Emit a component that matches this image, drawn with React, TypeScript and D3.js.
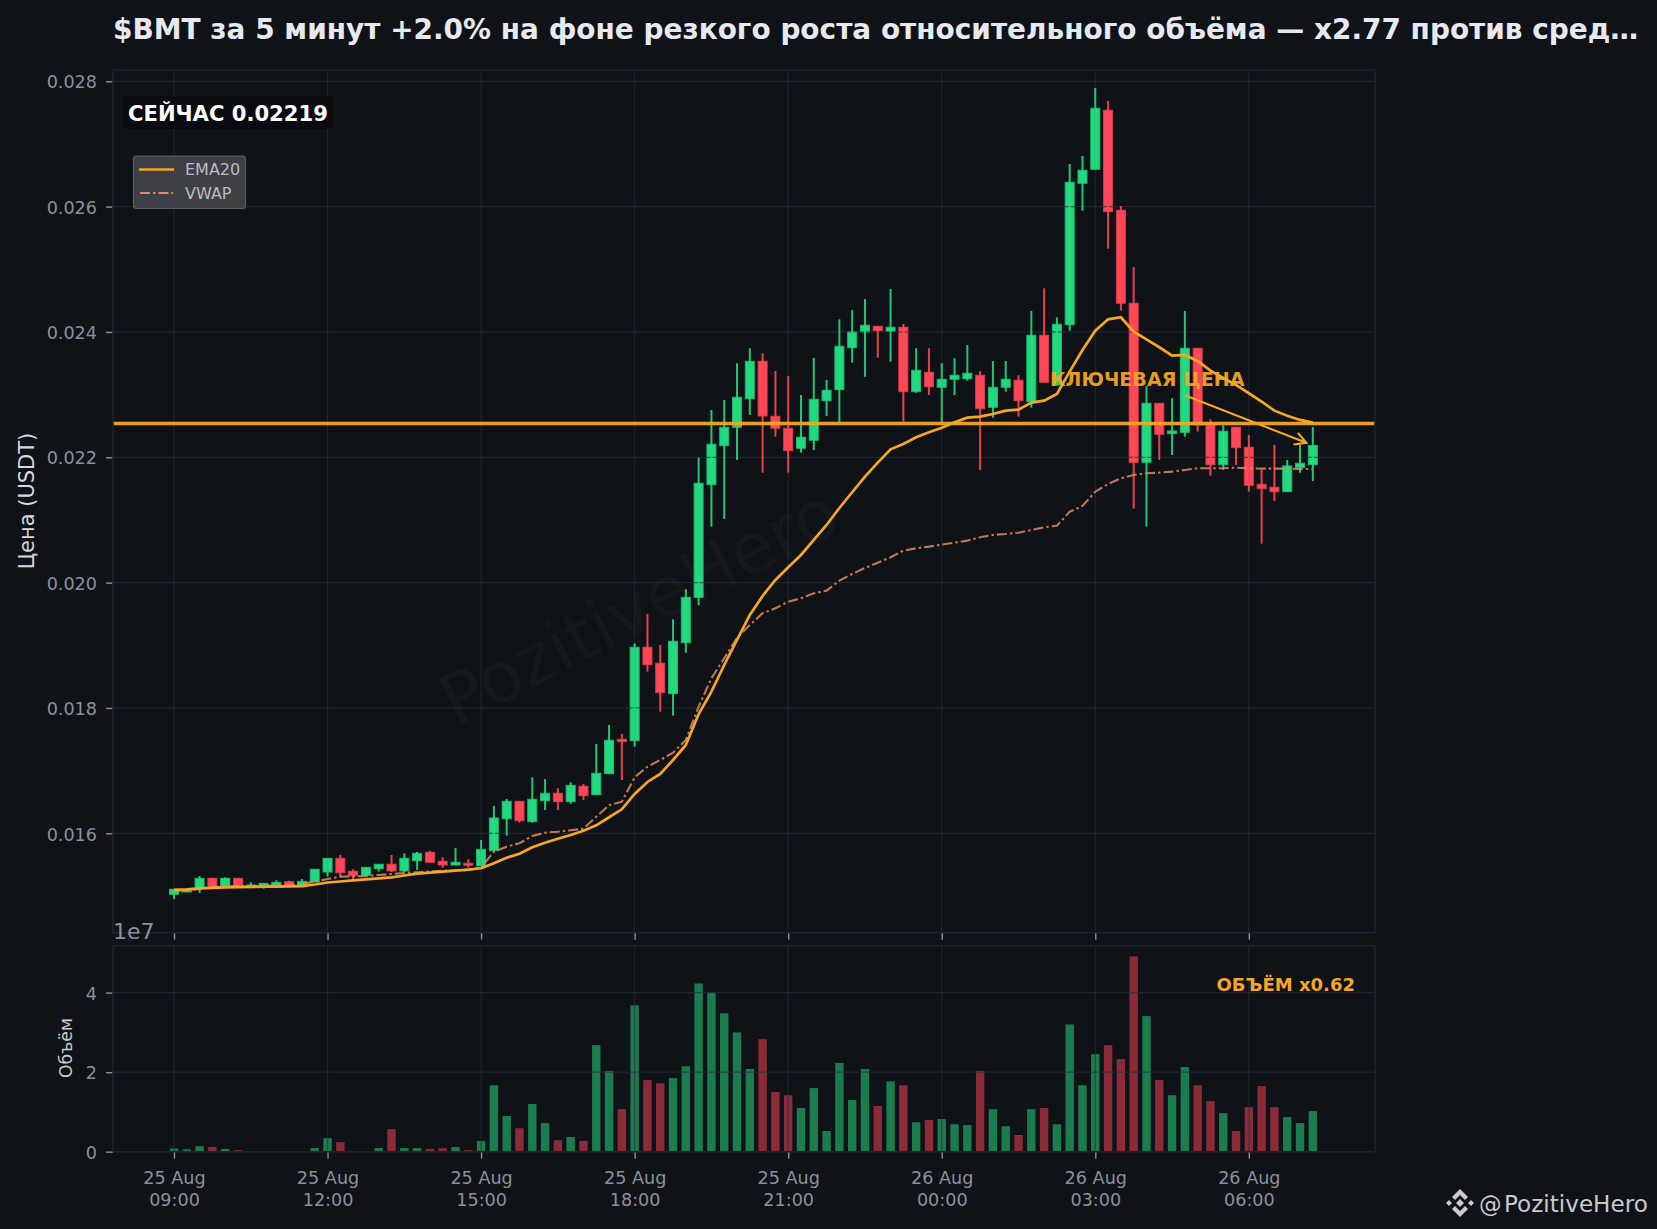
import React, { useEffect, useRef } from 'react';
import * as d3 from 'd3';

const WIDTH = 1657;
const HEIGHT = 1229;

const opens = [
  0.015027, 0.015064, 0.015132, 0.015282, 0.015159, 0.015282, 0.015159, 0.015159, 0.015171, 0.015228,
  0.015148, 0.015223, 0.015383, 0.015601, 0.015394, 0.015330, 0.015435, 0.015506, 0.015399, 0.015563,
  0.015697, 0.015554, 0.015494, 0.015522, 0.015479, 0.015723, 0.016233, 0.016511, 0.016186, 0.016521,
  0.016639, 0.016505, 0.016750, 0.016616, 0.016951, 0.017500, 0.017478, 0.018968, 0.018713, 0.018228,
  0.019042, 0.019766, 0.021563, 0.022186, 0.022479, 0.022935, 0.023532, 0.022654, 0.022463, 0.022144,
  0.022272, 0.022904, 0.023079, 0.023749, 0.024000, 0.024091, 0.024011, 0.024075, 0.023047, 0.023357,
  0.023117, 0.023245, 0.023255, 0.023309, 0.022798, 0.023117, 0.023229, 0.022887, 0.023947, 0.023154,
  0.024116, 0.026372, 0.026596, 0.027537, 0.025942, 0.024458, 0.021921, 0.022862, 0.022377, 0.022399,
  0.023740, 0.022516, 0.021882, 0.022479, 0.022160, 0.021569, 0.021522, 0.021451, 0.021835, 0.021882,
];
const highs = [
  0.015112, 0.015096, 0.015319, 0.015287, 0.015298, 0.015282, 0.015218, 0.015202, 0.015250, 0.015244,
  0.015271, 0.015426, 0.015601, 0.015654, 0.015426, 0.015458, 0.015506, 0.015654, 0.015681, 0.015702,
  0.015718, 0.015617, 0.015766, 0.015585, 0.015893, 0.016436, 0.016548, 0.016511, 0.016894, 0.016867,
  0.016719, 0.016814, 0.016787, 0.017425, 0.017729, 0.017585, 0.019032, 0.019500, 0.019005, 0.019415,
  0.019894, 0.021996, 0.022755, 0.022915, 0.023500, 0.023740, 0.023660, 0.023377, 0.023298, 0.022994,
  0.023585, 0.023234, 0.024202, 0.024351, 0.024526, 0.024091, 0.024686, 0.024127, 0.023740, 0.023740,
  0.023500, 0.023580, 0.023792, 0.023373, 0.023537, 0.023537, 0.023309, 0.024335, 0.024697, 0.024234,
  0.026680, 0.026808, 0.027893, 0.027685, 0.026010, 0.025037, 0.023138, 0.022862, 0.022942, 0.024335,
  0.023740, 0.022607, 0.022511, 0.022479, 0.022356, 0.021798, 0.022197, 0.021957, 0.022197, 0.022484,
];
const lows = [
  0.014952, 0.015064, 0.015052, 0.015132, 0.015148, 0.015148, 0.015123, 0.015116, 0.015171, 0.015159,
  0.015148, 0.015223, 0.015308, 0.015298, 0.015271, 0.015308, 0.015388, 0.015383, 0.015383, 0.015415,
  0.015538, 0.015451, 0.015494, 0.015451, 0.015479, 0.015723, 0.015962, 0.016170, 0.016170, 0.016372,
  0.016372, 0.016473, 0.016532, 0.016616, 0.016951, 0.016851, 0.017382, 0.018579, 0.017941, 0.017877,
  0.018882, 0.019643, 0.020893, 0.021016, 0.021957, 0.022675, 0.021755, 0.022329, 0.021755, 0.022074,
  0.022117, 0.022659, 0.022564, 0.023510, 0.023286, 0.023590, 0.023526, 0.022568, 0.023031, 0.022994,
  0.022564, 0.022994, 0.023223, 0.021798, 0.022632, 0.023047, 0.022648, 0.022792, 0.023197, 0.023145,
  0.024021, 0.025935, 0.026585, 0.025329, 0.024340, 0.021180, 0.020893, 0.021957, 0.022037, 0.022329,
  0.022409, 0.021707, 0.021798, 0.021878, 0.021451, 0.020622, 0.021303, 0.021451, 0.021755, 0.021622,
];
const closes = [
  0.015107, 0.015096, 0.015282, 0.015148, 0.015282, 0.015164, 0.015175, 0.015202, 0.015218, 0.015171,
  0.015234, 0.015426, 0.015601, 0.015372, 0.015324, 0.015458, 0.015506, 0.015399, 0.015601, 0.015681,
  0.015538, 0.015494, 0.015538, 0.015490, 0.015745, 0.016245, 0.016511, 0.016202, 0.016543, 0.016639,
  0.016505, 0.016766, 0.016600, 0.016958, 0.017484, 0.017462, 0.018968, 0.018691, 0.018244, 0.019064,
  0.019766, 0.021585, 0.022208, 0.022479, 0.022958, 0.023532, 0.022659, 0.022463, 0.022106, 0.022319,
  0.022926, 0.023069, 0.023772, 0.024005, 0.024107, 0.024021, 0.024075, 0.023047, 0.023389, 0.023127,
  0.023245, 0.023309, 0.023341, 0.022776, 0.023117, 0.023245, 0.022904, 0.023947, 0.023197, 0.024123,
  0.026388, 0.026580, 0.027569, 0.025920, 0.024458, 0.021921, 0.022862, 0.022367, 0.022420, 0.023740,
  0.022516, 0.021882, 0.022415, 0.022154, 0.021553, 0.021499, 0.021451, 0.021862, 0.021905, 0.022190,
];
const ema20 = [
  0.015096, 0.015104, 0.015120, 0.015128, 0.015136, 0.015141, 0.015143, 0.015147, 0.015150, 0.015153,
  0.015156, 0.015183, 0.015215, 0.015231, 0.015250, 0.015266, 0.015282, 0.015298, 0.015327, 0.015356,
  0.015372, 0.015388, 0.015404, 0.015419, 0.015442, 0.015522, 0.015611, 0.015675, 0.015777, 0.015850,
  0.015914, 0.015973, 0.016042, 0.016128, 0.016256, 0.016383, 0.016628, 0.016819, 0.016947, 0.017170,
  0.017410, 0.017904, 0.018260, 0.018686, 0.019085, 0.019484, 0.019787, 0.020042, 0.020245, 0.020441,
  0.020681, 0.020920, 0.021191, 0.021442, 0.021691, 0.021914, 0.022128, 0.022212, 0.022319, 0.022399,
  0.022473, 0.022559, 0.022632, 0.022648, 0.022691, 0.022744, 0.022760, 0.022872, 0.022904, 0.023011,
  0.023366, 0.023713, 0.024021, 0.024202, 0.024234, 0.024005, 0.023883, 0.023756, 0.023622, 0.023633,
  0.023537, 0.023382, 0.023266, 0.023154, 0.023022, 0.022887, 0.022744, 0.022664, 0.022596, 0.022553,
];
const vwap = [
  0.015080, 0.015088, 0.015112, 0.015143, 0.015151, 0.015159, 0.015159, 0.015164, 0.015167, 0.015175,
  0.015191, 0.015231, 0.015271, 0.015308, 0.015314, 0.015319, 0.015335, 0.015351, 0.015367, 0.015378,
  0.015391, 0.015404, 0.015410, 0.015415, 0.015455, 0.015707, 0.015787, 0.015841, 0.015957, 0.016010,
  0.016026, 0.016048, 0.016074, 0.016265, 0.016447, 0.016505, 0.016894, 0.017063, 0.017170, 0.017287,
  0.017489, 0.018021, 0.018474, 0.018793, 0.019117, 0.019324, 0.019511, 0.019591, 0.019696, 0.019750,
  0.019830, 0.019872, 0.020031, 0.020138, 0.020234, 0.020318, 0.020405, 0.020510, 0.020548, 0.020574,
  0.020606, 0.020638, 0.020670, 0.020724, 0.020761, 0.020776, 0.020797, 0.020840, 0.020883, 0.020909,
  0.021132, 0.021223, 0.021451, 0.021574, 0.021665, 0.021718, 0.021745, 0.021755, 0.021771, 0.021798,
  0.021825, 0.021825, 0.021825, 0.021835, 0.021825, 0.021819, 0.021819, 0.021819, 0.021814, 0.021814,
];
// in units of 1e7
const volumes = [
  0.08, 0.06, 0.14, 0.12, 0.07, 0.04, 0.01, 0.01, 0.01, 0.01,
  0.01, 0.09, 0.34, 0.24, 0.01, 0.01, 0.09, 0.57, 0.09, 0.09,
  0.07, 0.09, 0.12, 0.04, 0.27, 1.67, 0.9, 0.59, 1.2, 0.72,
  0.29, 0.37, 0.27, 2.68, 2.03, 1.07, 3.68, 1.8, 1.72, 1.85,
  2.15, 4.23, 4.0, 3.48, 3.0, 2.08, 2.83, 1.5, 1.42, 1.1,
  1.6, 0.52, 2.23, 1.3, 2.08, 1.15, 1.77, 1.67, 0.74, 0.8,
  0.82, 0.69, 0.67, 2.03, 1.07, 0.64, 0.42, 1.07, 1.1, 0.69,
  3.2, 1.67, 2.45, 2.68, 2.33, 4.91, 3.41, 1.8, 1.42, 2.13,
  1.67, 1.27, 0.97, 0.52, 1.12, 1.65, 1.12, 0.87, 0.72, 1.02,
];

const priceTicks = [0.016, 0.018, 0.02, 0.022, 0.024, 0.026, 0.028];
const volumeTicks = [0, 2, 4];
const keyPrice = 0.02254;
const lastPrice = 0.02219;
const arrowFrom = { index: 79, price: 0.02299 };

const TITLE = '$BMT за 5 минут +2.0% на фоне резкого роста относительного объёма — x2.77 против сред…';

const BG = '#0f1217';
const SPINE = '#1e242d';
const GRID = '#2a2e39';
const TICK = '#8a8f98';
const TICK_TEXT = '#8b919c';
const UP = '#22d97f';
const DOWN = '#ff4757';
const UP_EDGE = '#1db971';
const DOWN_EDGE = '#d93c4d';
const ORANGE = '#f5a623';
const VWAP_COLOR = '#de8a62';
const FONT = '"DejaVu Sans", sans-serif';

const start = Date.UTC(2025, 7, 25, 9, 0);
const QUARTER = 15 * 60 * 1000;
const timeAt = (i: number) => new Date(start + i * QUARTER);

export default function App() {
  const svgRef = useRef<SVGSVGElement>(null);

  useEffect(() => {
    if (!svgRef.current) return;
    const svg = d3.select(svgRef.current);
    svg.selectAll('*').remove();

    const left = 113;
    const right = 1375;
    const priceTop = 70;
    const priceBottom = 932.7;
    const volTop = 945.7;
    const volBottom = 1151.7;

    // about 12.8px per candle, first candle sits at x=174
    const x = d3.scaleUtc()
      .domain([new Date(start - 4.767 * QUARTER), new Date(start + 93.86 * QUARTER)])
      .range([left, right]);
    const y = d3.scaleLinear().domain([0.014414, 0.02818]).range([priceBottom, priceTop]);
    const yVol = d3.scaleLinear().domain([0, 5.18]).range([volBottom, volTop]);

    const bodyWidth = 9;
    const barWidth = 8.4;
    const xTicks = d3.range(0, 8).map(i => timeAt(i * 12));

    svg.append('rect').attr('width', WIDTH).attr('height', HEIGHT).attr('fill', BG);

    svg.append('text')
      .attr('x', 113).attr('y', 38.5)
      .attr('fill', '#e6e9ef')
      .attr('font-size', 27.95).attr('font-weight', 700)
      .text(TITLE);

    // watermark
    svg.append('text')
      .attr('transform', 'translate(650,628) rotate(-27)')
      .attr('text-anchor', 'middle')
      .attr('fill', '#ffffff').attr('fill-opacity', 0.028)
      .attr('font-size', 70)
      .text('PozitiveHero');

    // price panel
    const price = svg.append('g');
    const isUp = (i: number) => closes[i] >= opens[i];

    price.append('g').selectAll('rect')
      .data(opens)
      .join('rect')
      .attr('x', (_, i) => x(timeAt(i)) - bodyWidth / 2)
      .attr('width', bodyWidth)
      .attr('y', (_, i) => y(Math.max(opens[i], closes[i])))
      .attr('height', (_, i) => Math.max(1, Math.abs(y(opens[i]) - y(closes[i]))))
      .attr('fill', (_, i) => (isUp(i) ? UP : DOWN))
      .attr('stroke', (_, i) => (isUp(i) ? UP_EDGE : DOWN_EDGE))
      .attr('stroke-width', 1);

    const grid = (g: d3.Selection<SVGGElement, unknown, null, undefined>, top: number, bottom: number, levels: number[]) => {
      g.selectAll('line.v').data(xTicks).join('line').attr('class', 'v')
        .attr('x1', d => x(d)).attr('x2', d => x(d))
        .attr('y1', top).attr('y2', bottom)
        .attr('stroke', GRID).attr('stroke-opacity', 0.65).attr('stroke-width', 1.2);
      g.selectAll('line.h').data(levels).join('line').attr('class', 'h')
        .attr('x1', left).attr('x2', right)
        .attr('y1', d => d).attr('y2', d => d)
        .attr('stroke', GRID).attr('stroke-opacity', 0.65).attr('stroke-width', 1.2);
    };
    grid(price.append('g'), priceTop, priceBottom, priceTicks.map(d => y(d)));

    price.append('g').selectAll('line')
      .data(opens)
      .join('line')
      .attr('x1', (_, i) => x(timeAt(i))).attr('x2', (_, i) => x(timeAt(i)))
      .attr('y1', (_, i) => y(highs[i])).attr('y2', (_, i) => y(lows[i]))
      .attr('stroke', (_, i) => (isUp(i) ? UP : DOWN))
      .attr('stroke-opacity', 0.9)
      .attr('stroke-width', 2);

    const line = d3.line<number>().x((_, i) => x(timeAt(i))).y(d => y(d));

    price.append('path').attr('d', line(vwap))
      .attr('fill', 'none').attr('stroke', VWAP_COLOR).attr('stroke-opacity', 0.85)
      .attr('stroke-width', 2.1).attr('stroke-dasharray', '10,3,2.5,3');
    price.append('path').attr('d', line(ema20))
      .attr('fill', 'none').attr('stroke', ORANGE)
      .attr('stroke-width', 2.7);

    price.append('line')
      .attr('x1', left).attr('x2', right)
      .attr('y1', y(keyPrice)).attr('y2', y(keyPrice))
      .attr('stroke', ORANGE).attr('stroke-opacity', 0.95).attr('stroke-width', 3.6);

    // arrow to the last price, stopping short of the point
    const ax1 = x(timeAt(arrowFrom.index));
    const ay1 = y(arrowFrom.price);
    const px = x(timeAt(opens.length - 1));
    const py = y(lastPrice);
    const angle = Math.atan2(py - ay1, px - ax1);
    const ax2 = px - 7 * Math.cos(angle);
    const ay2 = py - 7 * Math.sin(angle);
    const head = (a: number) => `${ax2 - 13 * Math.cos(angle + a)},${ay2 - 13 * Math.sin(angle + a)}`;
    price.append('line')
      .attr('x1', ax1).attr('y1', ay1).attr('x2', ax2).attr('y2', ay2)
      .attr('stroke', ORANGE).attr('stroke-width', 2.2);
    price.append('polyline')
      .attr('points', `${head(0.5)} ${ax2},${ay2} ${head(-0.5)}`)
      .attr('fill', 'none').attr('stroke', ORANGE).attr('stroke-width', 2.2);

    price.append('text')
      .attr('x', 1050).attr('y', 386)
      .attr('fill', ORANGE).attr('fill-opacity', 0.95)
      .attr('font-size', 19.1).attr('font-weight', 700)
      .text('КЛЮЧЕВАЯ ЦЕНА');

    // current price badge
    price.append('rect')
      .attr('x', 123).attr('y', 96).attr('width', 210).attr('height', 33).attr('rx', 3)
      .attr('fill', '#090b0f').attr('fill-opacity', 0.85);
    price.append('text')
      .attr('x', 128).attr('y', 120.5)
      .attr('fill', '#ffffff')
      .attr('font-size', 21.1).attr('font-weight', 700)
      .text(`СЕЙЧАС ${lastPrice.toFixed(5)}`);

    // legend
    const legend = price.append('g');
    legend.append('rect')
      .attr('x', 133.5).attr('y', 156).attr('width', 112).attr('height', 52.5).attr('rx', 3)
      .attr('fill', '#3e4045').attr('stroke', '#5b5e63').attr('stroke-width', 1.2);
    legend.append('line').attr('x1', 139).attr('x2', 174).attr('y1', 169.5).attr('y2', 169.5)
      .attr('stroke', ORANGE).attr('stroke-width', 2.7);
    legend.append('line').attr('x1', 140).attr('x2', 173).attr('y1', 193).attr('y2', 193)
      .attr('stroke', VWAP_COLOR).attr('stroke-width', 2.1).attr('stroke-dasharray', '10,3,2.5,3');
    legend.selectAll('text').data(['EMA20', 'VWAP']).join('text')
      .attr('x', 185).attr('y', (_, i) => 175 + i * 24)
      .attr('fill', '#b9bcc1').attr('font-size', 16)
      .text(d => d);

    // volume panel
    const vol = svg.append('g');
    vol.append('g').selectAll('rect')
      .data(volumes)
      .join('rect')
      .attr('x', (_, i) => x(timeAt(i)) - barWidth / 2)
      .attr('width', barWidth)
      .attr('y', d => yVol(d))
      .attr('height', d => yVol(0) - yVol(d))
      .attr('fill', (_, i) => (isUp(i) ? '#1b7c4f' : '#8b2a38'));
    grid(vol.append('g'), volTop, volBottom, volumeTicks.map(d => yVol(d)));

    vol.append('text')
      .attr('x', 1355).attr('y', 991)
      .attr('text-anchor', 'end')
      .attr('fill', ORANGE)
      .attr('font-size', 18).attr('font-weight', 700)
      .text('ОБЪЁМ x0.62');

    // axes
    const styleAxis = (g: d3.Selection<SVGGElement, unknown, null, undefined>) => {
      g.select('.domain').remove();
      g.selectAll('.tick line').attr('stroke', TICK).attr('stroke-width', 1.4);
      g.selectAll('.tick text').attr('fill', TICK_TEXT).attr('font-size', 17.6).attr('font-family', FONT);
    };

    svg.append('g')
      .attr('transform', `translate(${left},0)`)
      .call(d3.axisLeft(y).tickValues(priceTicks).tickFormat(d => (+d).toFixed(3)).tickSize(7).tickPadding(9))
      .call(styleAxis)
      .selectAll('.tick text').attr('dy', '0.38em');
    svg.append('g')
      .attr('transform', `translate(${left},0)`)
      .call(d3.axisLeft(yVol).tickValues(volumeTicks).tickFormat(d3.format('d')).tickSize(7).tickPadding(9))
      .call(styleAxis)
      .selectAll('.tick text').attr('dy', '0.38em');
    svg.append('g')
      .attr('transform', `translate(0,${priceBottom})`)
      .call(d3.axisBottom(x).tickValues(xTicks).tickFormat(() => '').tickSize(7))
      .call(styleAxis);

    const fmtDay = d3.utcFormat('%d %b');
    const fmtHour = d3.utcFormat('%H:%M');
    const bottomAxis = svg.append('g')
      .attr('transform', `translate(0,${volBottom})`)
      .call(d3.axisBottom(x).tickValues(xTicks).tickFormat(() => '').tickSize(7))
      .call(styleAxis);
    bottomAxis.selectAll<SVGTextElement, Date>('.tick text').each(function (d) {
      const t = d3.select(this);
      t.attr('y', 0).attr('dy', null);
      t.append('tspan').attr('x', 0).attr('y', 32.5).text(fmtDay(d));
      t.append('tspan').attr('x', 0).attr('y', 54.5).text(fmtHour(d));
    });

    // panel frames
    [[priceTop, priceBottom], [volTop, volBottom]].forEach(([a, b]) => {
      svg.append('rect')
        .attr('x', left).attr('y', a).attr('width', right - left).attr('height', b - a)
        .attr('fill', 'none').attr('stroke', SPINE).attr('stroke-width', 1.5);
    });

    svg.append('text')
      .attr('x', 113).attr('y', 939)
      .attr('fill', TICK_TEXT).attr('font-size', 22)
      .text('1e7');

    svg.append('text')
      .attr('transform', 'translate(33.5,501) rotate(-90)')
      .attr('text-anchor', 'middle')
      .attr('fill', '#d5d8dd').attr('font-size', 21)
      .text('Цена (USDT)');
    svg.append('text')
      .attr('transform', 'translate(71.5,1048) rotate(-90)')
      .attr('text-anchor', 'middle')
      .attr('fill', '#c9ccd1').attr('font-size', 17.2)
      .text('Объём');

    // signature with logo
    const logo = svg.append('g').attr('transform', 'translate(1460,1203)').attr('fill', '#c8cacc');
    const diamond = (cx: number, cy: number, r: number) =>
      `M${cx},${cy - r}L${cx + r},${cy}L${cx},${cy + r}L${cx - r},${cy}Z`;
    logo.append('path').attr('d', diamond(0, 0, 4));
    logo.append('path').attr('d', diamond(-11, 0, 3));
    logo.append('path').attr('d', diamond(11, 0, 3));
    logo.append('path').attr('d', 'M0,-14L8,-6L5,-3L0,-8L-5,-3L-8,-6Z');
    logo.append('path').attr('d', 'M0,14L8,6L5,3L0,8L-5,3L-8,6Z');

    svg.append('text')
      .attr('x', 1479).attr('y', 1212)
      .attr('fill', '#c8cacc').attr('font-size', 22.6)
      .text('@');
    svg.append('text')
      .attr('x', 1504).attr('y', 1212)
      .attr('fill', '#c8cacc').attr('font-size', 23.1)
      .text('PozitiveHero');
  }, []);

  return (
    <svg
      ref={svgRef}
      width={WIDTH}
      height={HEIGHT}
      fontFamily={FONT}
      style={{ position: 'fixed', left: 0, top: 0, display: 'block' }}
    />
  );
}
